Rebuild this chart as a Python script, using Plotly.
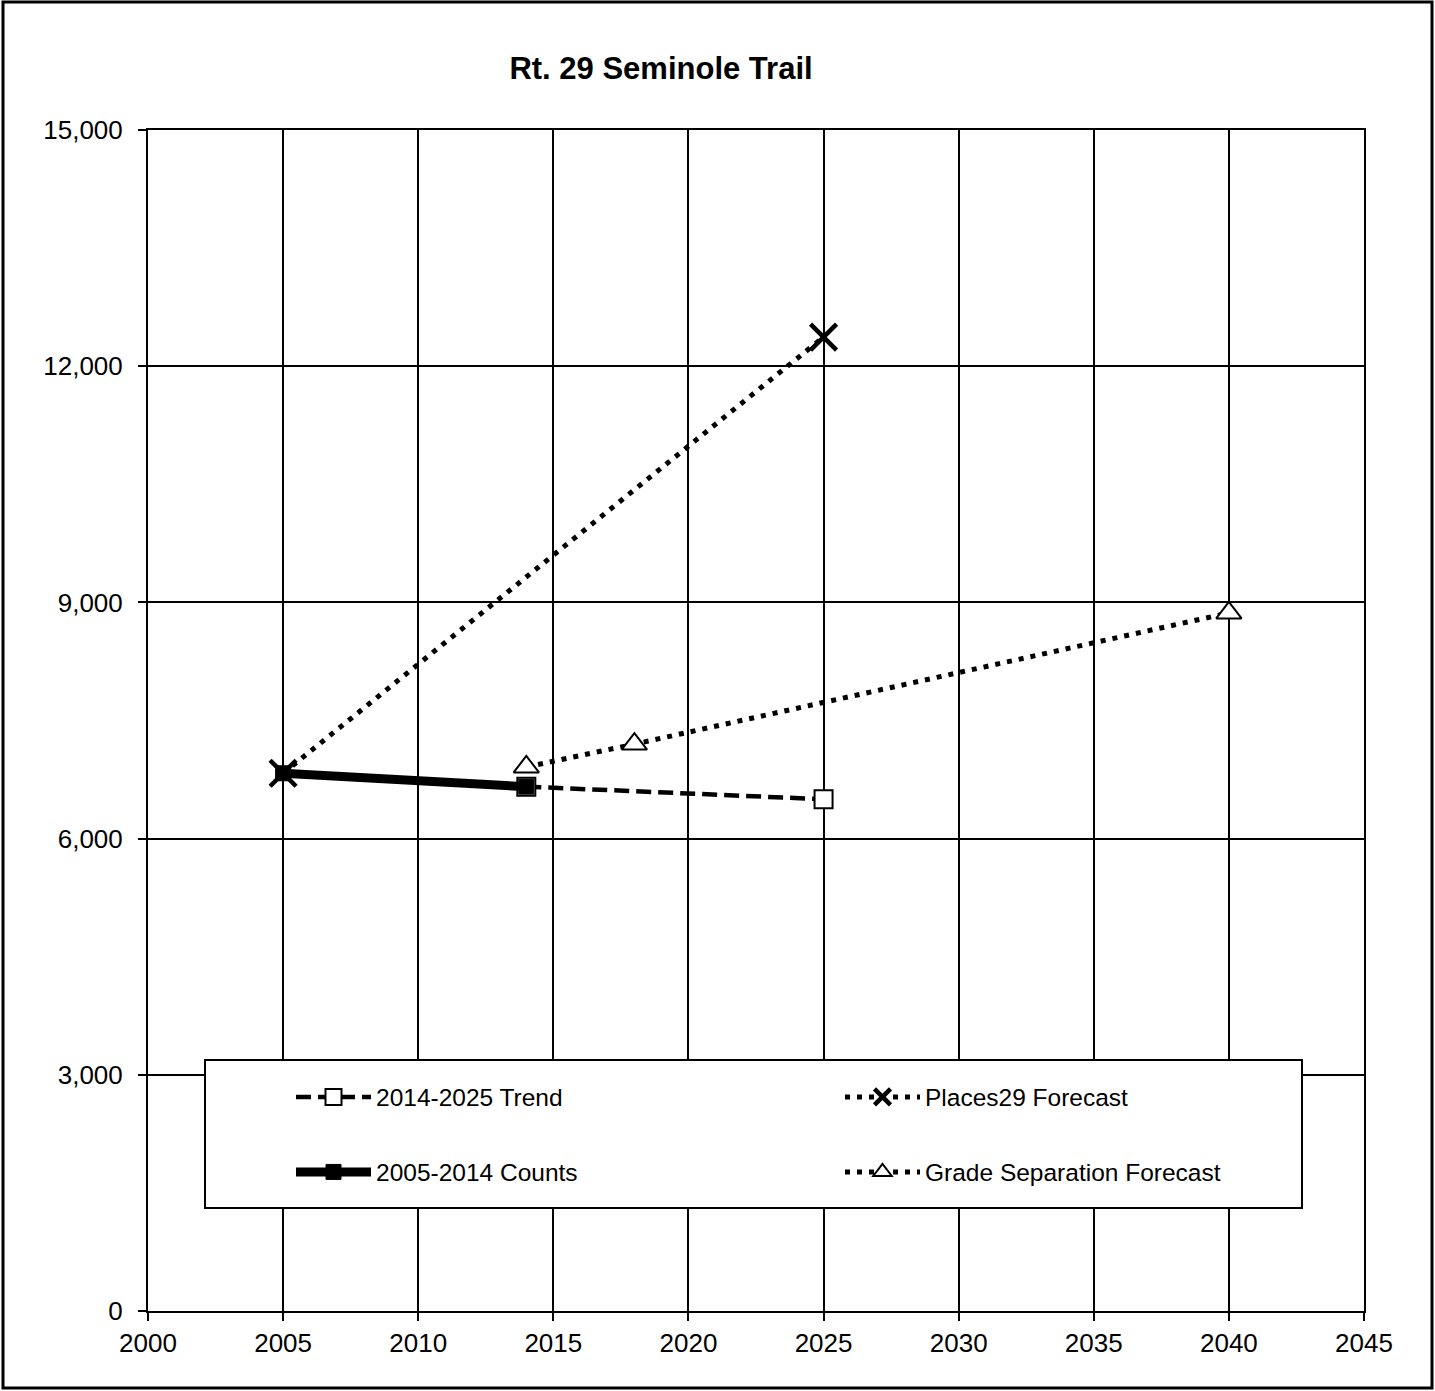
import plotly.graph_objects as go

# ---- data ----
x_counts = [2005, 2014]
y_counts = [6830, 6660]

x_trend = [2014, 2025]
y_trend = [6660, 6500]

x_places = [2005, 2025]
y_places = [6830, 12370]

x_grade = [2014, 2018, 2040]
y_grade = [6910, 7200, 8866]

x_ticks = [2000, 2005, 2010, 2015, 2020, 2025, 2030, 2035, 2040, 2045]
y_ticks = [0, 3000, 6000, 9000, 12000, 15000]

W, H = 1435, 1391
L, R, T, B = 148, 1364, 130, 1311
FONT = "Liberation Sans, Arial, sans-serif"


def px(xp):
    return (xp - L) / (R - L)


def py(yp):
    return (B - yp) / (B - T)


fig = go.Figure()

fig.add_trace(go.Scatter(
    x=x_trend, y=y_trend, name="2014-2025 Trend", mode="lines+markers",
    line=dict(color="black", width=4.5, dash="15px,7px"),
    marker=dict(symbol="square", size=18, color="white", line=dict(color="black", width=2)),
    legend="legend",
))
fig.add_trace(go.Scatter(
    x=x_counts, y=y_counts, name="2005-2014 Counts", mode="lines+markers",
    line=dict(color="black", width=9),
    marker=dict(symbol="square", size=15, color="black", line=dict(color="black", width=1)),
    legend="legend3",
))
fig.add_trace(go.Scatter(
    x=x_grade, y=y_grade, name="Grade Separation Forecast", mode="lines+markers",
    line=dict(color="black", width=5, dash="5px,7px"),
    marker=dict(symbol="triangle-up", size=22, color="white", line=dict(color="black", width=2)),
    legend="legend4",
))
fig.add_trace(go.Scatter(
    x=x_places, y=y_places, name="Places29 Forecast", mode="lines+markers",
    line=dict(color="black", width=5, dash="5px,7px"),
    marker=dict(symbol="x-thin", size=26, color="black", line=dict(color="black", width=4.5)),
    legend="legend2",
))

leg_font = dict(family=FONT, size=24.5, color="black")
common = dict(xanchor="left", yanchor="middle", bgcolor="rgba(0,0,0,0)",
              borderwidth=0, font=leg_font, itemwidth=75)

fig.update_layout(
    width=W, height=H,
    margin=dict(l=L, r=W - R, t=T, b=H - B),
    paper_bgcolor="white", plot_bgcolor="white",
    font=dict(family=FONT, size=26, color="black"),
    title=dict(text="<b>Rt. 29 Seminole Trail</b>", x=661 / W, xref="container",
               xanchor="center", y=1 - 68 / H, yref="container", yanchor="middle",
               font=dict(family=FONT, size=31, color="black")),
    showlegend=True,
    legend=dict(x=px(291), y=py(1097), **common),
    legend2=dict(x=px(840), y=py(1097), **common),
    legend3=dict(x=px(291), y=py(1172), **common),
    legend4=dict(x=px(840), y=py(1172), **common),
    xaxis=dict(range=[2000, 2045], tickvals=x_ticks, showgrid=True, gridcolor="black",
               gridwidth=2, ticks="outside", ticklen=8, tickwidth=2, tickcolor="black",
               showline=True, mirror=True, linecolor="black", linewidth=2,
               zeroline=False, ticklabelstandoff=0, tickfont=dict(size=26)),
    yaxis=dict(range=[0, 15000], tickvals=y_ticks, tickformat=",d", showgrid=True,
               gridcolor="black", gridwidth=2, ticks="outside", ticklen=8, tickwidth=2,
               tickcolor="black", showline=True, mirror=True, linecolor="black",
               linewidth=2, zeroline=False, ticklabelstandoff=10, tickfont=dict(size=26)),
    shapes=[
        dict(type="rect", xref="paper", yref="paper",
             x0=px(205), x1=px(1302), y0=py(1208), y1=py(1060),
             fillcolor="white", line=dict(color="black", width=2), layer="above"),
        dict(type="rect", xref="paper", yref="paper",
             x0=px(3), x1=px(1432), y0=py(1388), y1=py(2),
             fillcolor="rgba(0,0,0,0)", line=dict(color="black", width=3), layer="above"),
    ],
)

fig.write_html(
    "out.html",
    config={"displayModeBar": False},
    post_script="document.body.style.margin='0';document.body.style.overflow='hidden';",
)
